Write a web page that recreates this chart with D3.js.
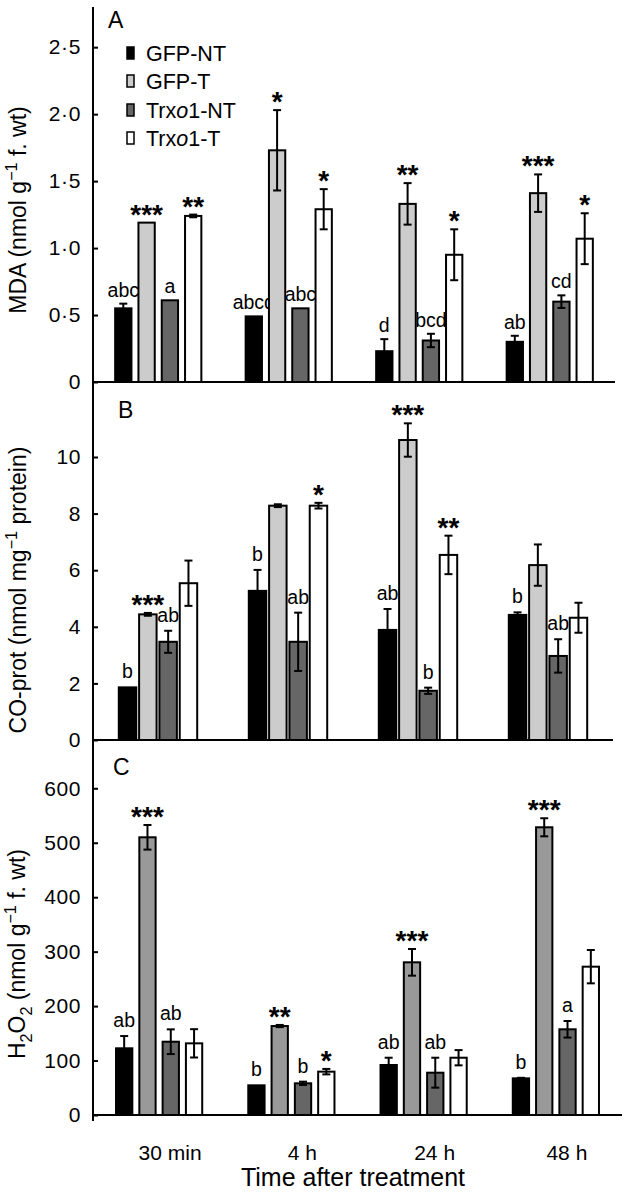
<!DOCTYPE html>
<html><head><meta charset="utf-8">
<script src="https://cdn.jsdelivr.net/npm/d3@7"></script>
<style>
body{margin:0;background:#fff}
svg{display:block}
text{font-family:"Liberation Sans",Arial,Helvetica,sans-serif;fill:#000}
</style>
</head><body>
<svg id="chart" width="633" height="1198"></svg>
<script>
// ---------- data ----------
const groups = ["30 min", "4 h", "24 h", "48 h"];
const series = ["GFP-NT", "GFP-T", "Trxo1-NT", "Trxo1-T"];

// Panel A: MDA (nmol g-1 f. wt), rows = series, columns = groups
const mdaMean = [
  [0.55, 0.49, 0.23, 0.30],
  [1.19, 1.73, 1.33, 1.41],
  [0.61, 0.55, 0.31, 0.60],
  [1.24, 1.29, 0.95, 1.07]
];
const mdaErr = [
  [0.035, 0, 0.09, 0.045],
  [0, 0.30, 0.155, 0.14],
  [0, 0, 0.05, 0.047],
  [0.01, 0.15, 0.19, 0.19]
];
const mdaLabels = [
  ["abc", "abcd", "d", "ab"],
  ["***", "*", "**", "***"],
  ["a", "abc", "bcd", "cd"],
  ["**", "*", "*", "*"]
];
const mdaTicks = [0, 0.5, 1.0, 1.5, 2.0, 2.5];

// Panel B: CO-prot (nmol mg-1 protein)
const coMean = [
  [1.86, 5.27, 3.89, 4.42],
  [4.44, 8.28, 10.6, 6.18],
  [3.47, 3.47, 1.74, 2.97],
  [5.54, 8.28, 6.54, 4.32]
];
const coErr = [
  [0, 0.74, 0.74, 0.09],
  [0.05, 0.05, 0.59, 0.73],
  [0.39, 1.03, 0.11, 0.59],
  [0.80, 0.10, 0.68, 0.53]
];
const coLabels = [
  ["b", "b", "ab", "b"],
  ["***", "", "***", ""],
  ["ab", "ab", "b", "ab"],
  ["", "*", "**", ""]
];
const coTicks = [0, 2, 4, 6, 8, 10];

// Panel C: H2O2 (nmol g-1 f. wt)
const h2o2Mean = [
  [122.5, 54.5, 91.8, 67.3],
  [510, 163.4, 280.4, 528.4],
  [134.6, 58.2, 77.7, 157.4],
  [131.6, 79.6, 105.2, 272.4]
];
const h2o2Err = [
  [22.5, 0, 13.4, 1],
  [22.6, 2, 24.5, 16.6],
  [22.7, 3, 27.5, 15.2],
  [26, 5, 14, 30.6]
];
const h2o2Labels = [
  ["ab", "b", "ab", "b"],
  ["***", "**", "***", "***"],
  ["ab", "b", "ab", "a"],
  ["", "*", "", ""]
];
const h2o2Ticks = [0, 100, 200, 300, 400, 500, 600];

const colorsAB = ["#000000", "#cccccc", "#666666", "#ffffff"];
const colorsC = ["#000000", "#999999", "#666666", "#ffffff"];

// ---------- drawing ----------
const svg = d3.select("#chart");
const AX = 93;
const dotFmt = d => d === 0 ? "0" : d3.format(".1f")(d).replace(".", "\u00B7");

const panels = [
  { mean: mdaMean, err: mdaErr, labels: mdaLabels, ticks: mdaTicks, fmt: dotFmt,
    yMax: 2.8, yRange: [382, 7], xRange: [AX, 615], inner: [-43.1, 43.1], pad: 0.3,
    colors: colorsAB, letter: "A", lx: 108, ly: 28, letterGap: 7,
    ylab: [{t: "MDA (nmol g"}, {t: "\u22121", s: "sup"}, {t: " f. wt)"}], ylx: 26, yly: 210 },
  { mean: coMean, err: coErr, labels: coLabels, ticks: coTicks, fmt: d3.format("d"),
    yMax: 12.65, yRange: [740, 382], xRange: [AX, 613], inner: [-39.2, 39.2], pad: 0.14,
    colors: colorsAB, letter: "B", lx: 118, ly: 418, letterGap: 9,
    ylab: [{t: "CO-prot (nmol mg"}, {t: "\u22121", s: "sup"}, {t: " protein)"}], ylx: 26, yly: 590 },
  { mean: h2o2Mean, err: h2o2Err, labels: h2o2Labels, ticks: h2o2Ticks, fmt: d3.format("d"),
    yMax: 688.7, yRange: [1115, 740], xRange: [AX, 622], inner: [-43.1, 43.1], pad: 0.3,
    colors: colorsC, letter: "C", lx: 113, ly: 775, letterGap: 9,
    ylab: [{t: "H"}, {t: "2", s: "sub"}, {t: "O"}, {t: "2", s: "sub"}, {t: " (nmol g"}, {t: "\u22121", s: "sup"}, {t: " f. wt)"}], ylx: 25, yly: 954 }
];

function richText(sel, parts) {
  let shift = 0;
  parts.forEach(p => {
    const ts = sel.append("tspan").text(p.t);
    let target = 0;
    if (p.s === "sup") { ts.attr("font-size", "70%"); target = -0.4; }
    else if (p.s === "sub") { ts.attr("font-size", "70%"); target = 0.3; }
    else if (p.s === "i") { ts.attr("font-style", "italic"); }
    const dy = target - shift;
    const small = p.s === "sup" || p.s === "sub";
    if (dy !== 0) ts.attr("dy", (small ? dy / 0.7 : dy) + "em");
    shift = target;
  });
}

panels.forEach((P, pi) => {
  const y = d3.scaleLinear().domain([0, P.yMax]).range(P.yRange);
  const x = d3.scaleBand().domain(groups).range(P.xRange).padding(0);
  const xi = d3.scaleBand().domain(series).range(P.inner).paddingInner(P.pad).paddingOuter(0);
  const g = svg.append("g");
  const cx = (gi, si) => x(groups[gi]) + x.bandwidth() / 2 + xi(series[si]);

  // y axis ticks
  const axis = d3.axisLeft(y).tickValues(P.ticks).tickFormat(P.fmt).tickSizeInner(-5).tickSizeOuter(0).tickPadding(12);
  const ag = g.append("g").attr("transform", `translate(${AX},0)`).call(axis);
  ag.select(".domain").remove();
  ag.selectAll(".tick line").attr("stroke", "#000").attr("stroke-width", 2);
  ag.selectAll(".tick text").attr("font-size", 21).attr("fill", "#000")
    .attr("letter-spacing", 0.6)
    .style("font-family", '"Liberation Sans",Arial,sans-serif');

  // significance labels (behind bars)
  const lab = [];
  P.mean.forEach((row, si) => row.forEach((v, gi) => {
    const t = P.labels[si][gi];
    if (t) lab.push({si, gi, v, e: P.err[si][gi], t});
  }));
  g.selectAll("text.sig").data(lab).join("text")
    .attr("class", "sig")
    .attr("x", d => cx(d.gi, d.si) + xi.bandwidth() / 2)
    .attr("y", d => {
      const top = y(d.v + d.e);
      return d.t.includes("*") ? top + 1 : top - P.letterGap;
    })
    .attr("text-anchor", "middle")
    .attr("font-size", d => d.t.includes("*") ? 28 : 19.5)
    .attr("font-weight", d => d.t.includes("*") ? "bold" : "normal")
    .text(d => d.t);

  // bars
  const cells = [];
  P.mean.forEach((row, si) => row.forEach((v, gi) => cells.push({si, gi, v, e: P.err[si][gi]})));
  g.selectAll("rect.bar").data(cells).join("rect")
    .attr("class", "bar")
    .attr("x", d => cx(d.gi, d.si))
    .attr("width", xi.bandwidth())
    .attr("y", d => y(d.v))
    .attr("height", d => y(0) - y(d.v))
    .attr("fill", d => P.colors[d.si])
    .attr("stroke", "#000")
    .attr("stroke-width", 2);

  // error bars
  const eb = g.selectAll("g.eb").data(cells.filter(d => d.e > 0)).join("g").attr("class", "eb")
    .attr("stroke", "#000").attr("stroke-width", 2);
  eb.append("line")
    .attr("x1", d => cx(d.gi, d.si) + xi.bandwidth() / 2)
    .attr("x2", d => cx(d.gi, d.si) + xi.bandwidth() / 2)
    .attr("y1", d => y(d.v - d.e)).attr("y2", d => y(d.v + d.e));
  [1, -1].forEach(sgn => {
    eb.append("line")
      .attr("x1", d => cx(d.gi, d.si) + xi.bandwidth() / 2 - 4)
      .attr("x2", d => cx(d.gi, d.si) + xi.bandwidth() / 2 + 4)
      .attr("y1", d => y(d.v + sgn * d.e)).attr("y2", d => y(d.v + sgn * d.e));
  });

  // baseline
  g.append("line").attr("x1", AX).attr("x2", P.xRange[1]).attr("y1", y(0)).attr("y2", y(0))
    .attr("stroke", "#000").attr("stroke-width", 2);

  // panel letter
  g.append("text").attr("x", P.lx).attr("y", P.ly).attr("font-size", 23).text(P.letter);

  // y label
  const yl = g.append("text")
    .attr("transform", `translate(${P.ylx},${P.yly}) rotate(-90)`)
    .attr("text-anchor", "middle").attr("font-size", 23);
  richText(yl, P.ylab);

  // category labels on last panel
  if (pi === 2) {
    g.selectAll("text.cat").data(groups).join("text")
      .attr("class", "cat")
      .attr("x", d => x(d) + x.bandwidth() / 2 + 11)
      .attr("y", 1160)
      .attr("text-anchor", "middle").attr("font-size", 21)
      .text(d => d);
  }
});

// y axis spine
svg.append("line").attr("x1", AX).attr("x2", AX).attr("y1", 7).attr("y2", 1121)
  .attr("stroke", "#000").attr("stroke-width", 2);

// x title
svg.append("text").attr("x", 353).attr("y", 1186).attr("text-anchor", "middle")
  .attr("font-size", 25).text("Time after treatment");

// legend
const legRows = [53, 81, 110, 138];
const leg = svg.append("g").selectAll("g").data(series).join("g")
  .attr("transform", (d, i) => `translate(127,${legRows[i]})`);
leg.append("rect").attr("x", 0).attr("y", -6).attr("width", 7).attr("height", 12)
  .attr("fill", (d, i) => colorsAB[i]).attr("stroke", "#000").attr("stroke-width", 1.5);
leg.append("text").attr("x", 19).attr("y", 7.5).attr("font-size", 21.5)
  .each(function(d) {
    const sel = d3.select(this);
    if (d.startsWith("Trxo1")) {
      richText(sel, [{t: "Trx"}, {t: "o", s: "i"}, {t: d.slice(4)}]);
    } else sel.text(d);
  });
</script>
</body></html>
